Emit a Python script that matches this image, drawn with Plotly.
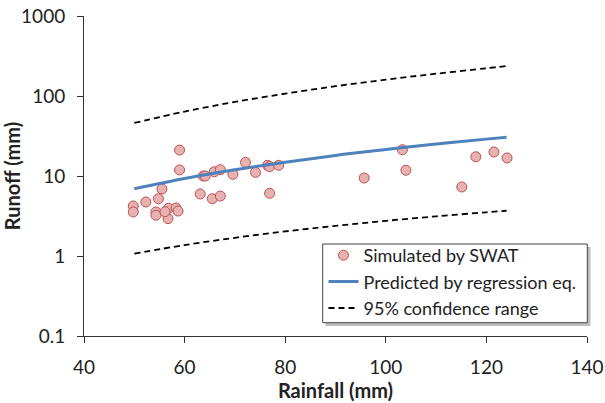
import plotly.graph_objects as go

# Simulated by SWAT (scatter)
sim_rain = [59.0, 59.0, 49.8, 49.8, 52.3, 55.5, 54.8, 54.3, 54.3, 56.8, 56.7, 56.1,
            58.3, 58.7, 63.1, 63.7, 64.1, 65.5, 65.9, 67.1, 67.1, 69.6, 72.1, 74.1,
            76.5, 76.9, 76.9, 78.7, 95.7, 103.3, 104.0, 115.1, 117.9, 121.5, 124.1]
sim_runoff = [21.1, 11.9, 4.22, 3.55, 4.73, 6.88, 5.2, 3.55, 3.23, 3.95, 2.93, 3.58,
              3.98, 3.65, 5.96, 10.0, 10.0, 5.2, 11.3, 5.62, 12.0, 10.5, 14.8, 11.1,
              13.6, 13.1, 6.08, 13.6, 9.44, 21.3, 11.8, 7.29, 17.4, 19.95, 16.8]

# Regression curve and 95% confidence range
curve_rain = [50, 60, 70, 80, 90, 100, 110, 120, 124]
pred_runoff = [6.93, 9.33, 12.0, 14.9, 18.1, 21.4, 25.1, 28.9, 30.5]
upper_runoff = [46.0, 63.9, 84.3, 107, 132.5, 160, 190, 222, 237]
lower_runoff = [1.07, 1.37, 1.69, 2.03, 2.38, 2.75, 3.13, 3.52, 3.68]

x_ticks = [40, 60, 80, 100, 120, 140]
y_ticks = [0.1, 1, 10, 100, 1000]
y_ticktext = ["0.1", "1", "10", "100", "1000"]

FONT = "Lato, 'Open Sans', sans-serif"
TXT = "#222222"

fig = go.Figure()
fig.add_trace(go.Scatter(
    x=sim_rain, y=sim_runoff, mode="markers", name="Simulated by SWAT",
    marker=dict(size=10, color="#e6b3b2", line=dict(color="#c0504d", width=1)),
))
fig.add_trace(go.Scatter(
    x=curve_rain, y=pred_runoff, mode="lines", name="Predicted by regression eq.",
    line=dict(color="#4f81bd", width=3, shape="spline"),
))
fig.add_trace(go.Scatter(
    x=curve_rain, y=upper_runoff, mode="lines", name="95% confidence range",
    line=dict(color="black", width=1.8, dash="6px,4px", shape="spline"),
))
fig.add_trace(go.Scatter(
    x=curve_rain, y=lower_runoff, mode="lines", name="95% lower",
    showlegend=False,
    line=dict(color="black", width=1.8, dash="6px,4px", shape="spline"),
))

# plot area in pixels: x 84..587, y 16..336
L, R, T, B = 84, 587, 16, 336
def px2paper_x(p):
    return (p - L) / (R - L)
def px2paper_y(p):
    return (B - p) / (B - T)

# legend shadow and box
fig.add_shape(
    type="rect", xref="paper", yref="paper", layer="above",
    x0=px2paper_x(325.5), x1=px2paper_x(590.5),
    y0=px2paper_y(326), y1=px2paper_y(247),
    fillcolor="rgba(110,110,110,0.45)", line=dict(width=0),
)
fig.add_shape(
    type="rect", xref="paper", yref="paper", layer="above",
    x0=px2paper_x(322.7), x1=px2paper_x(587.3),
    y0=px2paper_y(322.7), y1=px2paper_y(244),
    fillcolor="white", line=dict(width=1, color="#444444"),
)

fig.update_layout(
    width=605, height=403,
    margin=dict(l=L, r=605 - R, t=T, b=403 - B),
    paper_bgcolor="white", plot_bgcolor="white",
    font=dict(family=FONT, size=19, color=TXT),
    showlegend=True,
    legend=dict(
        x=px2paper_x(323.5), y=px2paper_y(237), xanchor="left", yanchor="top",
        bgcolor="rgba(0,0,0,0)", borderwidth=0,
        font=dict(size=18, family=FONT, color=TXT),
        tracegroupgap=0, itemwidth=30,
    ),
    xaxis=dict(
        range=[40, 140], tickvals=x_ticks, showgrid=False, zeroline=False,
        showline=True, linecolor="#333333", linewidth=1,
        ticks="outside", ticklen=6, tickcolor="#333333",
        ticklabelstandoff=8, automargin=False,
        tickfont=dict(size=19, family=FONT, color=TXT),
        title=dict(text="<b>Rainfall (mm)</b>", standoff=2,
                   font=dict(size=20, family=FONT, color=TXT)),
    ),
    yaxis=dict(
        type="log", range=[-1, 3], tickvals=y_ticks, ticktext=y_ticktext,
        showgrid=False, zeroline=False,
        showline=True, linecolor="#333333", linewidth=1,
        ticks="outside", ticklen=6, tickcolor="#333333",
        ticklabelstandoff=8, automargin=False,
        tickfont=dict(size=19, family=FONT, color=TXT),
        title=dict(text="<b>Runoff (mm)</b>", standoff=6,
                   font=dict(size=20, family=FONT, color=TXT)),
    ),
)

fig.write_html("out.html")
